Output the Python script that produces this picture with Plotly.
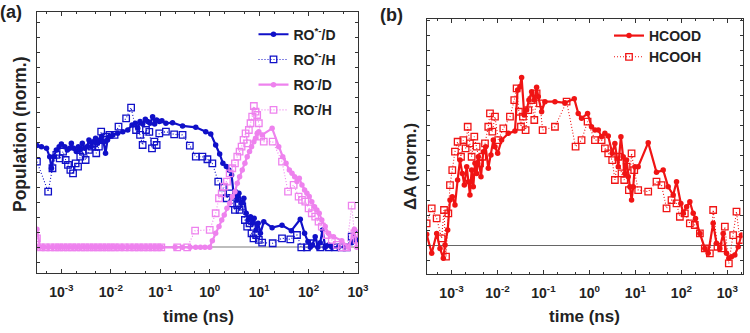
import plotly.graph_objects as go

# ---------------- Panel (a) data ----------------
ro_star_d_t = [3.2e-4, 3.95e-4, 5.0e-4, 5.8e-4, 6.3e-4, 7.0e-4, 7.9e-4, 9.0e-4, 1.0e-3, 1.17e-3,
               1.32e-3, 1.47e-3, 1.59e-3, 1.77e-3, 2.0e-3, 2.2e-3, 2.41e-3, 2.65e-3, 2.95e-3, 3.29e-3,
               3.61e-3, 4.02e-3, 4.48e-3, 4.91e-3, 5.39e-3, 5.91e-3, 6.49e-3, 7.12e-3, 7.81e-3, 8.57e-3,
               9.4e-3, 0.011, 0.0138, 0.0175, 0.022, 0.0269, 0.0314, 0.035, 0.039, 0.044,
               0.0499, 0.0556, 0.062, 0.070, 0.0769, 0.0844, 0.0955, 0.108, 0.130, 0.177,
               0.282, 0.523, 0.831, 1.05, 1.32, 1.59, 1.85, 2.17, 2.45, 2.77,
               3.09, 3.34, 3.61, 3.90, 4.41, 4.91, 5.47, 6.0, 6.69, 7.23,
               7.93, 8.7, 9.55, 10.6, 12.4, 18.3, 29.0, 44.8, 67.9, 83.0,
               97, 108, 120, 136, 154, 172, 191, 217, 253, 295,
               402, 547, 745, 940]
ro_star_d_v = [0.678, 0.671, 0.660, 0.604, 0.527, 0.604, 0.649, 0.671, 0.689, 0.671,
               0.649, 0.660, 0.693, 0.660, 0.638, 0.671, 0.649, 0.693, 0.660, 0.671,
               0.716, 0.671, 0.704, 0.727, 0.693, 0.716, 0.738, 0.704, 0.627, 0.716,
               0.738, 0.749, 0.760, 0.771, 0.782, 0.816, 0.827, 0.793, 0.838, 0.822,
               0.853, 0.838, 0.827, 0.871, 0.822, 0.849, 0.838, 0.844, 0.827, 0.831,
               0.809, 0.800, 0.771, 0.756, 0.682, 0.622, 0.560, 0.538, 0.516, 0.482,
               0.338, 0.371, 0.316, 0.360, 0.293, 0.327, 0.227, 0.182, 0.204, 0.160,
               0.193, 0.116, 0.160, 0.093, 0.171, 0.131, 0.147, 0.111, 0.187, 0.093,
               0.038, 0.0, 0.016, 0.071, 0.0, 0.031, 0.116, 0.0, 0.016, 0.0,
               0.0, 0.004, 0.031, 0.049]

ro_star_h_t = [3.2e-4, 5.4e-4, 6.6e-4, 7.9e-4, 9.25e-4, 1.08e-3, 1.22e-3, 1.36e-3, 1.52e-3, 1.72e-3,
               1.94e-3, 2.17e-3, 2.41e-3, 2.73e-3, 3.09e-3, 3.61e-3, 4.08e-3, 4.62e-3, 5.07e-3, 5.73e-3,
               6.38e-3, 7.12e-3, 8.05e-3, 9.4e-3, 0.0119, 0.0143, 0.0204, 0.0257, 0.0324, 0.039,
               0.044, 0.0514, 0.060, 0.068, 0.0757, 0.0844, 0.0955, 0.130, 0.191, 0.282,
               0.396, 0.523, 0.711, 0.898, 1.13, 1.49, 1.85, 2.20, 2.53, 2.86,
               3.24, 3.61, 4.02, 4.55, 5.15, 5.73, 6.39, 7.01, 7.69, 8.7,
               9.85, 11.5, 18.8, 29.0, 42.7, 58.2, 71.2, 92.5, 126, 172,
               253, 344, 469, 591, 745, 940]
ro_star_h_v = [0.571, 0.371, 0.527, 0.616, 0.593, 0.638, 0.582, 0.549, 0.516, 0.493,
               0.560, 0.538, 0.604, 0.638, 0.582, 0.649, 0.671, 0.693, 0.627, 0.671,
               0.771, 0.716, 0.738, 0.749, 0.749, 0.804, 0.860, 0.931, 0.782, 0.749,
               0.682, 0.782, 0.769, 0.660, 0.704, 0.682, 0.760, 0.771, 0.753, 0.749,
               0.678, 0.604, 0.604, 0.587, 0.560, 0.438, 0.400, 0.327, 0.360, 0.293,
               0.249, 0.282, 0.249, 0.271, 0.182, 0.138, 0.160, 0.093, 0.060, 0.082,
               0.049, 0.031, 0.027, 0.060, 0.053, 0.082, 0.0, 0.0, 0.027, 0.0,
               0.0, 0.0, 0.0, 0.0, 0.071, 0.082]

ro_d_t = [3.2e-4, 3.7e-4, 4.5e-4, 5.5e-4, 6.6e-4, 8.0e-4, 9.5e-4, 1.15e-3, 1.4e-3, 1.7e-3,
          2.0e-3, 2.4e-3, 2.9e-3, 3.5e-3, 4.2e-3, 5.0e-3, 6.0e-3, 7.2e-3, 8.6e-3, 0.0103,
          0.0124, 0.015, 0.018, 0.022, 0.026, 0.031, 0.037, 0.044, 0.053, 0.063,
          0.075, 0.090, 0.105, 0.20, 0.28, 0.40, 0.52, 0.65, 0.80, 1.0,
          1.13, 1.32, 1.54, 1.75, 1.97, 2.23, 2.53, 2.86, 3.24, 3.61,
          4.02, 4.55, 5.15, 5.73, 6.39, 7.01, 7.81, 8.44, 9.12, 9.85,
          11.5, 18.3, 24.9, 30.0, 35.0, 40.8, 46.2, 52.2, 58.2, 64.9,
          73.4, 83.0, 92.5, 103, 116, 132, 147, 164, 185, 217,
          253, 319, 469, 639, 844, 940]
ro_d_v = [0.120, 0.0, 0.0, 0.0, 0.0, 0.0, 0.0, 0.0, 0.0, 0.0,
          0.0, 0.0, 0.0, 0.0, 0.0, 0.0, 0.0, 0.0, 0.0, 0.0,
          0.0, 0.0, 0.0, 0.0, 0.0, 0.0, 0.0, 0.0, 0.0, 0.0,
          0.0, 0.0, 0.0, 0.0, 0.0, 0.0, 0.0, 0.0, 0.0, 0.0,
          0.044, 0.093, 0.138, 0.182, 0.216, 0.260, 0.293, 0.338, 0.371, 0.427,
          0.471, 0.516, 0.560, 0.604, 0.638, 0.671, 0.704, 0.727, 0.760, 0.771,
          0.749, 0.793, 0.671, 0.604, 0.560, 0.516, 0.493, 0.471, 0.438, 0.460,
          0.416, 0.382, 0.360, 0.338, 0.304, 0.271, 0.249, 0.227, 0.182, 0.138,
          0.093, 0.071, 0.044, 0.0, 0.120, 0.0]

ro_h_t = [3.2e-4, 3.8e-4, 4.8e-4, 6.0e-4, 7.5e-4, 9.0e-4, 1.1e-3, 1.35e-3, 1.65e-3, 2.0e-3,
          2.5e-3, 3.0e-3, 3.7e-3, 4.5e-3, 5.5e-3, 6.7e-3, 8.2e-3, 0.010, 0.012, 0.015,
          0.019, 0.024, 0.030, 0.037, 0.046, 0.057, 0.070, 0.086, 0.105, 0.22,
          0.35, 0.507, 1.0, 1.32, 1.54, 1.75, 1.97, 2.23, 2.53, 2.86,
          3.24, 3.61, 4.02, 4.41, 4.84, 5.31, 5.73, 6.19, 6.69, 7.23,
          7.81, 8.44, 9.12, 9.85, 11.0, 12.4, 18.8, 29.0, 38.4, 49.9,
          62.9, 73.4, 85.7, 100, 116, 136, 159, 185, 234, 295,
          372, 469, 591, 745, 844, 940]
ro_h_v = [0.060, 0.0, 0.0, 0.0, 0.0, 0.0, 0.0, 0.0, 0.0, 0.0,
          0.0, 0.0, 0.0, 0.0, 0.0, 0.0, 0.0, 0.0, 0.0, 0.0,
          0.0, 0.0, 0.0, 0.0, 0.0, 0.0, 0.0, 0.0, 0.0, 0.0,
          0.0, 0.111, 0.116, 0.227, 0.327, 0.360, 0.404, 0.438, 0.493, 0.527,
          0.560, 0.604, 0.638, 0.671, 0.716, 0.760, 0.693, 0.782, 0.827, 0.871,
          0.942, 0.904, 0.882, 0.827, 0.738, 0.704, 0.704, 0.571, 0.371, 0.416,
          0.338, 0.316, 0.304, 0.260, 0.227, 0.204, 0.171, 0.138, 0.082, 0.049,
          0.016, 0.0, 0.0, 0.278, 0.093, 0.049]

# ---------------- Panel (b) data ----------------
hcood_t = [2.88e-4, 3.71e-4, 4.76e-4, 5.62e-4, 6.64e-4, 7.22e-4, 8.26e-4, 9.27e-4, 1.04e-3, 1.19e-3,
           1.36e-3, 1.53e-3, 1.72e-3, 1.90e-3, 2.14e-3, 2.32e-3, 2.52e-3, 2.74e-3, 2.98e-3, 3.24e-3,
           3.52e-3, 3.83e-3, 4.38e-3, 4.92e-3, 5.53e-3, 6.32e-3, 7.22e-3, 8.12e-3, 8.83e-3, 0.0101,
           0.0123, 0.0172, 0.024, 0.0274, 0.0308, 0.0335, 0.0383, 0.0431, 0.0484, 0.0553,
           0.0632, 0.071, 0.0773, 0.0912, 0.108, 0.178, 0.293, 0.468, 0.571, 0.675,
           0.912, 1.11, 1.32, 1.56, 1.84, 2.17, 2.57, 3.13, 3.58, 4.24,
           4.84, 5.44, 5.91, 6.43, 6.99, 7.6, 8.26, 8.97, 9.75, 11.5,
           19.0, 28.8, 40.3, 51.7, 66.4, 78.5, 97.5, 110, 130, 153,
           181, 203, 253, 324, 383, 492, 581, 687, 811, 959,
           1078, 1233, 1456, 1722, 2032]
hcood_v = [0.076, -0.051, 0.082, -0.018, -0.084, 0.004, 0.104, 0.304, 0.327, 0.271,
           0.438, 0.571, 0.482, 0.404, 0.527, 0.427, 0.338, 0.504, 0.393, 0.549,
           0.482, 0.593, 0.460, 0.627, 0.660, 0.516, 0.604, 0.704, 0.660, 0.616,
           0.704, 0.749, 0.764, 1.038, 1.060, 1.122, 0.871, 0.904, 0.971, 1.027,
           0.971, 1.056, 0.993, 0.893, 0.960, 0.960, 0.953, 0.980, 0.882, 0.849,
           0.882, 0.793, 0.771, 0.771, 0.727, 0.749, 0.731, 0.616, 0.682, 0.527,
           0.727, 0.593, 0.482, 0.571, 0.460, 0.393, 0.304, 0.393, 0.527, 0.527,
           0.687, 0.489, 0.504, 0.393, 0.338, 0.427, 0.282, 0.216, 0.260, 0.293,
           0.216, 0.182, 0.082, -0.018, -0.051, 0.149, 0.016, -0.018, 0.082, -0.051,
           -0.084, -0.073, -0.062, -0.007, 0.071]

hcooh_t = [2.88e-4, 3.71e-4, 4.76e-4, 6.11e-4, 6.87e-4, 7.59e-4, 8.53e-4, 9.27e-4, 1.04e-3, 1.19e-3,
           1.36e-3, 1.61e-3, 1.81e-3, 2.03e-3, 2.25e-3, 2.52e-3, 2.74e-3, 3.13e-3, 3.52e-3, 4.17e-3,
           4.68e-3, 5.35e-3, 6.32e-3, 6.87e-3, 7.72e-3, 8.83e-3, 0.0104, 0.0134, 0.0187, 0.0232,
           0.0261, 0.0293, 0.0324, 0.0358, 0.0409, 0.0468, 0.0553, 0.0632, 0.071, 0.0839,
           0.0959, 0.178, 0.319, 0.5, 0.675, 0.912, 1.32, 1.84, 2.17, 2.57,
           3.13, 3.58, 4.24, 5.0, 5.72, 6.43, 7.22, 8.26, 9.44, 11.5,
           19.0, 28.8, 37.0, 47.6, 61.1, 78.5, 92.8, 119, 153, 196,
           253, 324, 417, 492, 611, 746, 883, 1078, 1340, 1582,
           1870]
hcooh_v = [0.149, 0.249, 0.182, 0.049, 0.238, -0.073, 0.216, 0.404, 0.504, 0.627,
           0.693, 0.593, 0.704, 0.649, 0.793, 0.682, 0.593, 0.727, 0.660, 0.549,
           0.593, 0.682, 0.793, 0.882, 0.760, 0.860, 0.704, 0.782, 0.860, 0.971,
           1.049, 0.893, 0.793, 0.860, 0.771, 0.904, 0.971, 0.838, 1.016, 0.949,
           0.771, 0.793, 0.960, 0.660, 0.704, 0.827, 0.704, 0.704, 0.649, 0.616,
           0.571, 0.438, 0.593, 0.482, 0.438, 0.527, 0.371, 0.616, 0.504, 0.371,
           0.360, 0.427, 0.404, 0.249, 0.304, 0.282, 0.193, 0.216, 0.149, 0.138,
           0.082, -0.018, -0.051, 0.238, -0.007, -0.018, 0.127, -0.118, 0.071, 0.227,
           0.038]

tick_vals = [1e-3, 1e-2, 1e-1, 1e0, 1e1, 1e2, 1e3]
tick_text = ["10<sup>-3</sup>", "10<sup>-2</sup>", "10<sup>-1</sup>", "10<sup>0</sup>",
             "10<sup>1</sup>", "10<sup>2</sup>", "10<sup>3</sup>"]

BLUE = "#1010c8"
PINK = "#ee82ee"
RED = "#f01414"
FONT = "Liberation Sans"

fig = go.Figure()

def solid(t, v, name, color, xa, ya, leg, group):
    return go.Scatter(x=t, y=v, name=name, mode="lines+markers", xaxis=xa, yaxis=ya,
                      legend=leg, legendgroup=group,
                      line=dict(color=color, width=2.2),
                      marker=dict(symbol="circle", size=5.5, color=color))

def dotted(t, v, name, color, xa, ya, leg, group):
    return go.Scatter(x=t, y=v, name=name, mode="lines+markers", xaxis=xa, yaxis=ya,
                      legend=leg, legendgroup=group,
                      line=dict(color=color, width=1.1, dash="1px,2px"),
                      marker=dict(symbol="square-open", size=6.5, color=color,
                                  line=dict(width=1.3, color=color)))

fig.add_trace(solid(ro_star_d_t, ro_star_d_v, "RO<sup>*-</sup>/D", BLUE, "x", "y", "legend", "a1"))
fig.add_trace(dotted(ro_star_h_t, ro_star_h_v, "RO<sup>*-</sup>/H", BLUE, "x", "y", "legend", "a2"))
fig.add_trace(solid(ro_d_t, ro_d_v, "RO<sup>-</sup>/D", PINK, "x", "y", "legend", "a3"))
fig.add_trace(dotted(ro_h_t, ro_h_v, "RO<sup>-</sup>/H", PINK, "x", "y", "legend", "a4"))
fig.add_trace(solid(hcood_t, hcood_v, "HCOOD", RED, "x2", "y2", "legend2", None))
fig.add_trace(dotted(hcooh_t, hcooh_v, "HCOOH", RED, "x2", "y2", "legend2", None))

axis_line = "#333333"

def xaxis(domain, rng, anchor):
    return dict(type="log", domain=domain, range=rng, anchor=anchor,
                tickmode="array", tickvals=tick_vals, ticktext=tick_text,
                ticks="inside", ticklen=4, tickcolor=axis_line, tickwidth=1,
                minor=dict(ticks="inside", ticklen=2, tickcolor=axis_line, showgrid=False),
                showline=True, linecolor=axis_line, linewidth=1, mirror="ticks",
                showgrid=False, zeroline=False,
                tickfont=dict(family=FONT, size=14, color="#222", weight="bold"),
                ticklabelstandoff=6)

def yaxis(domain, rng, anchor, zc, zw):
    return dict(domain=domain, range=rng, anchor=anchor,
                tickmode="linear", tick0=0, dtick=0.1,
                ticks="inside", ticklen=3, tickcolor=axis_line,
                showticklabels=False,
                showline=True, linecolor=axis_line, linewidth=1, mirror="ticks",
                showgrid=False, zeroline=True, zerolinecolor=zc, zerolinewidth=zw)

fig.update_layout(
    width=750, height=333,
    template="none",
    paper_bgcolor="white", plot_bgcolor="white",
    margin=dict(l=0, r=0, t=0, b=0),
    font=dict(family=FONT, color="#222"),
    xaxis=xaxis([0.0489, 0.4777], [-3.50, 3.005], "y"),
    yaxis=yaxis([0.1793, 0.9631], [-0.1733, 1.5667], "x", "#bdbdbd", 2),
    xaxis2=xaxis([0.5689, 0.99], [-3.54, 3.33], "y2"),
    yaxis2=yaxis([0.1763, 0.9429], [-0.1907, 1.5113], "x2", "#666666", 1),
    legend=dict(x=0.338, y=0.944, xanchor="left", yanchor="top",
                bgcolor="rgba(0,0,0,0)", tracegroupgap=4,
                font=dict(family=FONT, size=14, color="#222", weight="bold")),
    legend2=dict(x=0.812, y=0.94, xanchor="left", yanchor="top",
                 bgcolor="rgba(0,0,0,0)",
                 font=dict(family=FONT, size=14, color="#222", weight="bold")),
    showlegend=True,
)

ann_font = dict(family=FONT, color="#222", weight="bold")
annotations = [
    dict(text="(a)", x=11 / 750, y=1 - 12.5 / 333, font=dict(size=18, **ann_font)),
    dict(text="(b)", x=391 / 750, y=1 - 15 / 333, font=dict(size=18, **ann_font)),
    dict(text="time (ns)", x=198 / 750, y=1 - 316.7 / 333, font=dict(size=17, **ann_font)),
    dict(text="time (ns)", x=584 / 750, y=1 - 316.7 / 333, font=dict(size=17, **ann_font)),
    dict(text="Population (norm.)", x=20 / 750, y=1 - 134 / 333, textangle=-90,
         font=dict(size=17.5, **ann_font)),
    dict(text="ΔA (norm.)", x=410 / 750, y=1 - 167 / 333, textangle=-90,
         font=dict(size=17, **ann_font)),
]
for a in annotations:
    fig.add_annotation(xref="paper", yref="paper", showarrow=False,
                       xanchor="center", yanchor="middle", **a)

fig.write_html("out.html",
               config={"displayModeBar": False},
               post_script="document.body.style.margin='0px';document.body.style.overflow='hidden';")
